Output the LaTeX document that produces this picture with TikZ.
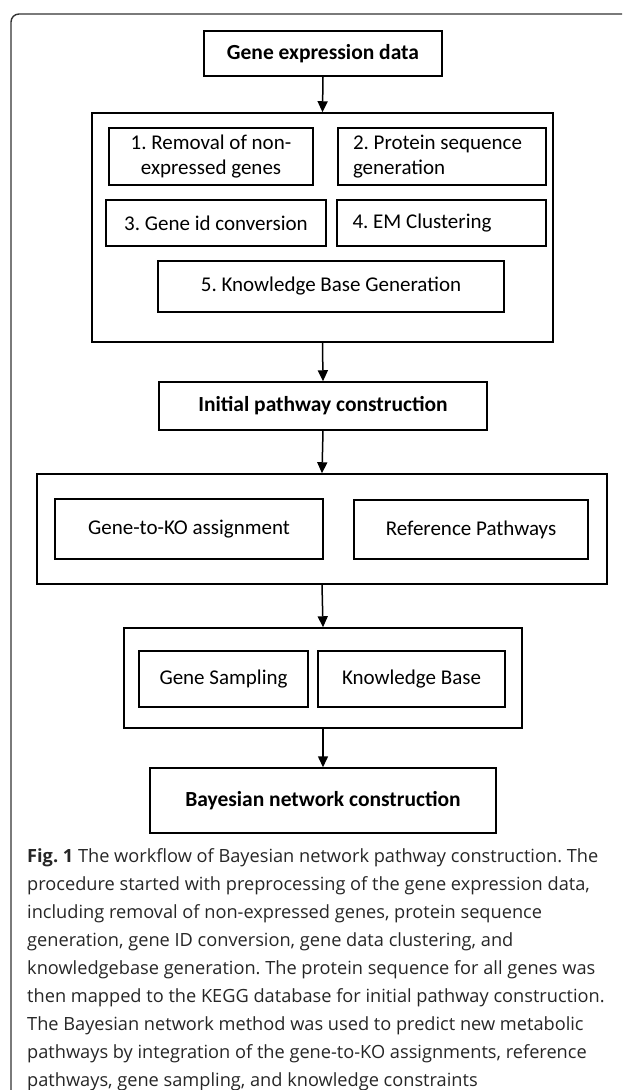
\documentclass[tikz,border=0pt]{standalone}
\usepackage{fontspec}
\setmainfont{Carlito}
\newfontfamily\capfont{Open Sans}
\usetikzlibrary{arrows.meta}

\tikzset{
  stepbox/.style={draw, line width=1.5pt, inner sep=0pt, font=\frenchspacing\fontsize{21}{25}\selectfont},
  headbox/.style={stepbox, font=\frenchspacing\fontsize{21.5}{25}\selectfont\bfseries},
  groupbox/.style={draw, line width=1.5pt, inner sep=0pt},
  flow/.style={-{Triangle[width=10pt,length=11pt]}, line width=1.5pt}
}
\newcommand{\stepline}[1]{\makebox[178pt][l]{#1}}

\begin{document}
\frenchspacing
\begin{tikzpicture}[x=1pt,y=-1pt]
\useasboundingbox (0,0) rectangle (622,1090);

%Frame
\draw[line width=1.4pt, black!80, rounded corners=8pt] (11,1090)--(11,14)--(622,14);

%Preprocessing
\node[headbox, minimum width=238pt, minimum height=45pt] (geneData) at (323,53.5) {Gene expression data};
\node[groupbox, minimum width=461pt, minimum height=229pt] (preproc) at (322.5,227.5) {};
\node[stepbox, minimum width=204pt, minimum height=57pt, align=center] (removal) at (211,156.5) {1. Removal of non-\\expressed genes};
\node[stepbox, minimum width=208pt, minimum height=57pt, align=left] (protSeq) at (442,156.5) {\stepline{2. Protein sequence}\\generation};
\node[stepbox, minimum width=220pt, minimum height=46pt] (idConv) at (216,223) {3. Gene id conversion};
\node[stepbox, minimum width=209pt, minimum height=46pt] (emClust) at (441.5,223) {\stepline{4. EM Clustering}};
\node[stepbox, minimum width=346pt, minimum height=51pt] (kbGen) at (331,286.5) {5. Knowledge Base Generation};

%Initial pathway
\node[headbox, minimum width=328pt, minimum height=48pt] (initPath) at (323,406) {Initial pathway construction};
\node[groupbox, minimum width=570pt, minimum height=110pt] (assign) at (322,529) {};
\node[stepbox, minimum width=268pt, minimum height=60pt] (koAssign) at (189,529) {Gene-to-KO assignment};
\node[stepbox, minimum width=234pt, minimum height=59pt] (refPath) at (471,529.5) {Reference Pathways};

%Bayesian network
\node[groupbox, minimum width=398pt, minimum height=100pt] (sampling) at (323,678) {};
\node[stepbox, minimum width=169pt, minimum height=56pt] (geneSamp) at (223.5,679) {Gene Sampling};
\node[stepbox, minimum width=187pt, minimum height=56pt] (knowBase) at (411.5,679) {Knowledge Base};
\node[headbox, minimum width=346pt, minimum height=65pt] (bayesNet) at (323,800.5) {Bayesian network construction};

\draw[flow] (geneData.south)--(preproc.north);
\draw[flow] (preproc.south)--(initPath.north);
\draw[flow] (initPath.south)--(assign.north);
\draw[flow] (assign.south)--(sampling.north);
\draw[flow] (sampling.south)--(bayesNet.north);

%Caption
\node[anchor=north west, align=left, inner sep=0pt, text=black!85, font=\capfont\frenchspacing\fontsize{18.2}{28}\selectfont] (caption) at (27,848) {{\bfseries Fig. 1} The workflow of Bayesian network pathway construction. The\\
procedure started with preprocessing of the gene expression data,\\
including removal of non-expressed genes, protein sequence\\
generation, gene ID conversion, gene data clustering, and\\
knowledgebase generation. The protein sequence for all genes was\\
then mapped to the KEGG database for initial pathway construction.\\
The Bayesian network method was used to predict new metabolic\\
pathways by integration of the gene-to-KO assignments, reference\\
pathways, gene sampling, and knowledge constraints};
\end{tikzpicture}
\end{document}
